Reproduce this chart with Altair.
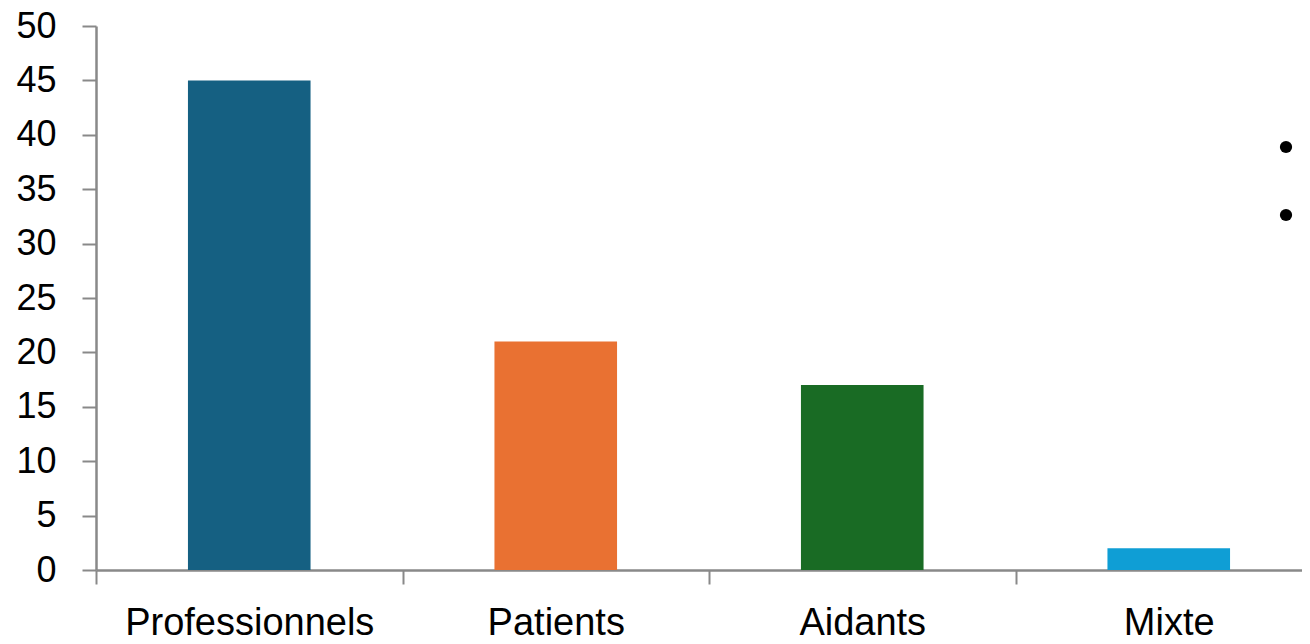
import altair as alt
import pandas as pd

categories = ["Professionnels", "Patients", "Aidants", "Mixte"]
values = [45, 21, 17, 2]
colors = ["#156082", "#E97132", "#196B24", "#0F9ED5"]
y_ticks = [0, 5, 10, 15, 20, 25, 30, 35, 40, 45, 50]

df = pd.DataFrame({"cat": categories, "val": values})

FONT = "Liberation Sans"
AXIS_COLOR = "#898989"

bars = alt.Chart(df).mark_bar(width=alt.RelativeBandSize(0.4)).encode(
    x=alt.X("cat:N", sort=categories,
            scale=alt.Scale(paddingInner=0, paddingOuter=0, range=[0, 1226]),
            axis=alt.Axis(title=None, labelAngle=0, labelFontSize=38, labelFont=FONT,
                          labelColor="#000000", labelPadding=20, labelLimit=0,
                          tickBand="extent", tickSize=14, tickWidth=2, tickColor=AXIS_COLOR,
                          domainColor=AXIS_COLOR, domainWidth=2.5, grid=False)),
    y=alt.Y("val:Q", scale=alt.Scale(domain=[0, 50], nice=False),
            axis=alt.Axis(title=None, values=y_ticks, labelFontSize=36, labelFont=FONT,
                          labelColor="#000000", labelPadding=26, tickSize=14, tickWidth=2,
                          tickColor=AXIS_COLOR, domainColor=AXIS_COLOR, domainWidth=2.5,
                          grid=False)),
    color=alt.Color("cat:N", sort=categories,
                    scale=alt.Scale(domain=categories, range=colors), legend=None),
)

b1 = alt.Chart(pd.DataFrame({"k": [0]})).mark_point(filled=True, size=150, color="#000000", opacity=1).encode(
    x=alt.value(1190), y=alt.value(121))
b2 = alt.Chart(pd.DataFrame({"k": [1]})).mark_point(filled=True, size=150, color="#000000", opacity=1).encode(
    x=alt.value(1190), y=alt.value(189))

chart = alt.layer(bars, b1, b2).properties(
    width=1206, height=544,
    background="#ffffff",
    autosize=alt.AutoSizeParams(type="none"),
    padding={"left": 88, "top": 18, "right": 0, "bottom": 66},
).configure_view(strokeWidth=0, stroke="transparent")

chart.save("out.html", embed_options={"renderer": "svg", "actions": False})
